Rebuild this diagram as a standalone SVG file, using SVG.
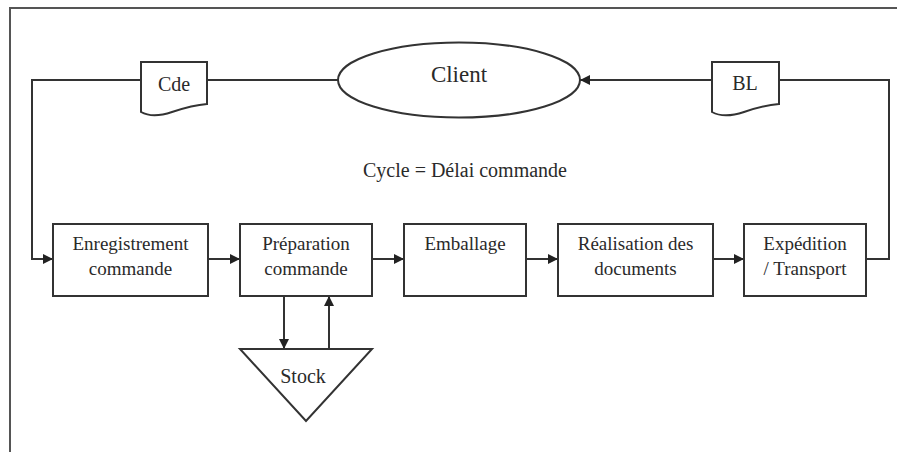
<svg xmlns="http://www.w3.org/2000/svg" width="897" height="452" viewBox="0 0 897 452">
  <defs>
    <marker id="arrow" viewBox="0 0 10 10" refX="10" refY="5" markerWidth="11" markerHeight="10" markerUnits="userSpaceOnUse" orient="auto">
      <path d="M0,0 L10,5 L0,10 Z" fill="#222"/>
    </marker>
    <style>
      .frame { fill: none; stroke: #555; stroke-width: 2; }
      .shape { fill: #fff; stroke: #333; stroke-width: 2; }
      .link { fill: none; stroke: #333; stroke-width: 2; }
      .arrow { marker-end: url(#arrow); }
      text { font-family: "Liberation Serif", "Times New Roman", serif; font-size: 19px; fill: #2a2a2a; text-anchor: middle; }
      .big { font-size: 23px; }
      .mid { font-size: 20px; }
    </style>
  </defs>

  <rect width="897" height="452" fill="#fff"/>

  <!-- page frame (top and left edges only) -->
  <path class="frame" d="M10,452 V8 H897"/>

  <!-- connectors -->
  <g id="connectors">
    <path class="link" d="M338,80 H207"/>
    <path class="link arrow" d="M141,80 H32 V259 H53"/>
    <path class="link arrow" d="M208,259 H240"/>
    <path class="link arrow" d="M372,259 H404"/>
    <path class="link arrow" d="M526,259 H558"/>
    <path class="link arrow" d="M713,259 H744"/>
    <path class="link" d="M866,259 H889 V80 H779"/>
    <path class="link arrow" d="M712,80 H580"/>
    <path class="link arrow" d="M284,296 V349"/>
    <path class="link arrow" d="M329,349 V296"/>
  </g>

  <!-- customer -->
  <g id="client">
    <ellipse class="shape" cx="459" cy="80" rx="121" ry="37.5"/>
    <text class="big" x="459" y="82">Client</text>
  </g>

  <!-- documents -->
  <g id="cde">
    <path class="shape" d="M141,62 H207 V104 C194,105 184,108 172,112 C160,116 150,117 141,112 Z"/>
    <text class="mid" x="174" y="91">Cde</text>
  </g>
  <g id="bl">
    <path class="shape" d="M712,62 H779 V104 C766,105 756,108 744,112 C732,116 721,117 712,112 Z"/>
    <text class="mid" x="745" y="90">BL</text>
  </g>

  <!-- cycle label -->
  <text class="mid" x="465" y="177">Cycle = Délai commande</text>

  <!-- process steps -->
  <g id="enregistrement">
    <rect class="shape" x="53" y="224" width="155" height="72"/>
    <text x="130.5" y="250">Enregistrement</text>
    <text x="130.5" y="275">commande</text>
  </g>
  <g id="preparation">
    <rect class="shape" x="240" y="224" width="132" height="72"/>
    <text x="306" y="250">Préparation</text>
    <text x="306" y="275">commande</text>
  </g>
  <g id="emballage">
    <rect class="shape" x="404" y="224" width="122" height="72"/>
    <text x="465" y="250">Emballage</text>
  </g>
  <g id="documents">
    <rect class="shape" x="558" y="224" width="155" height="72"/>
    <text x="635.5" y="250">Réalisation des</text>
    <text x="635.5" y="275">documents</text>
  </g>
  <g id="expedition">
    <rect class="shape" x="744" y="224" width="122" height="72"/>
    <text x="805" y="250">Expédition</text>
    <text x="805" y="275">/ Transport</text>
  </g>

  <!-- stock -->
  <g id="stock">
    <path class="shape" d="M240,349 H372 L306,421 Z"/>
    <text class="mid" x="303" y="383">Stock</text>
  </g>
</svg>
